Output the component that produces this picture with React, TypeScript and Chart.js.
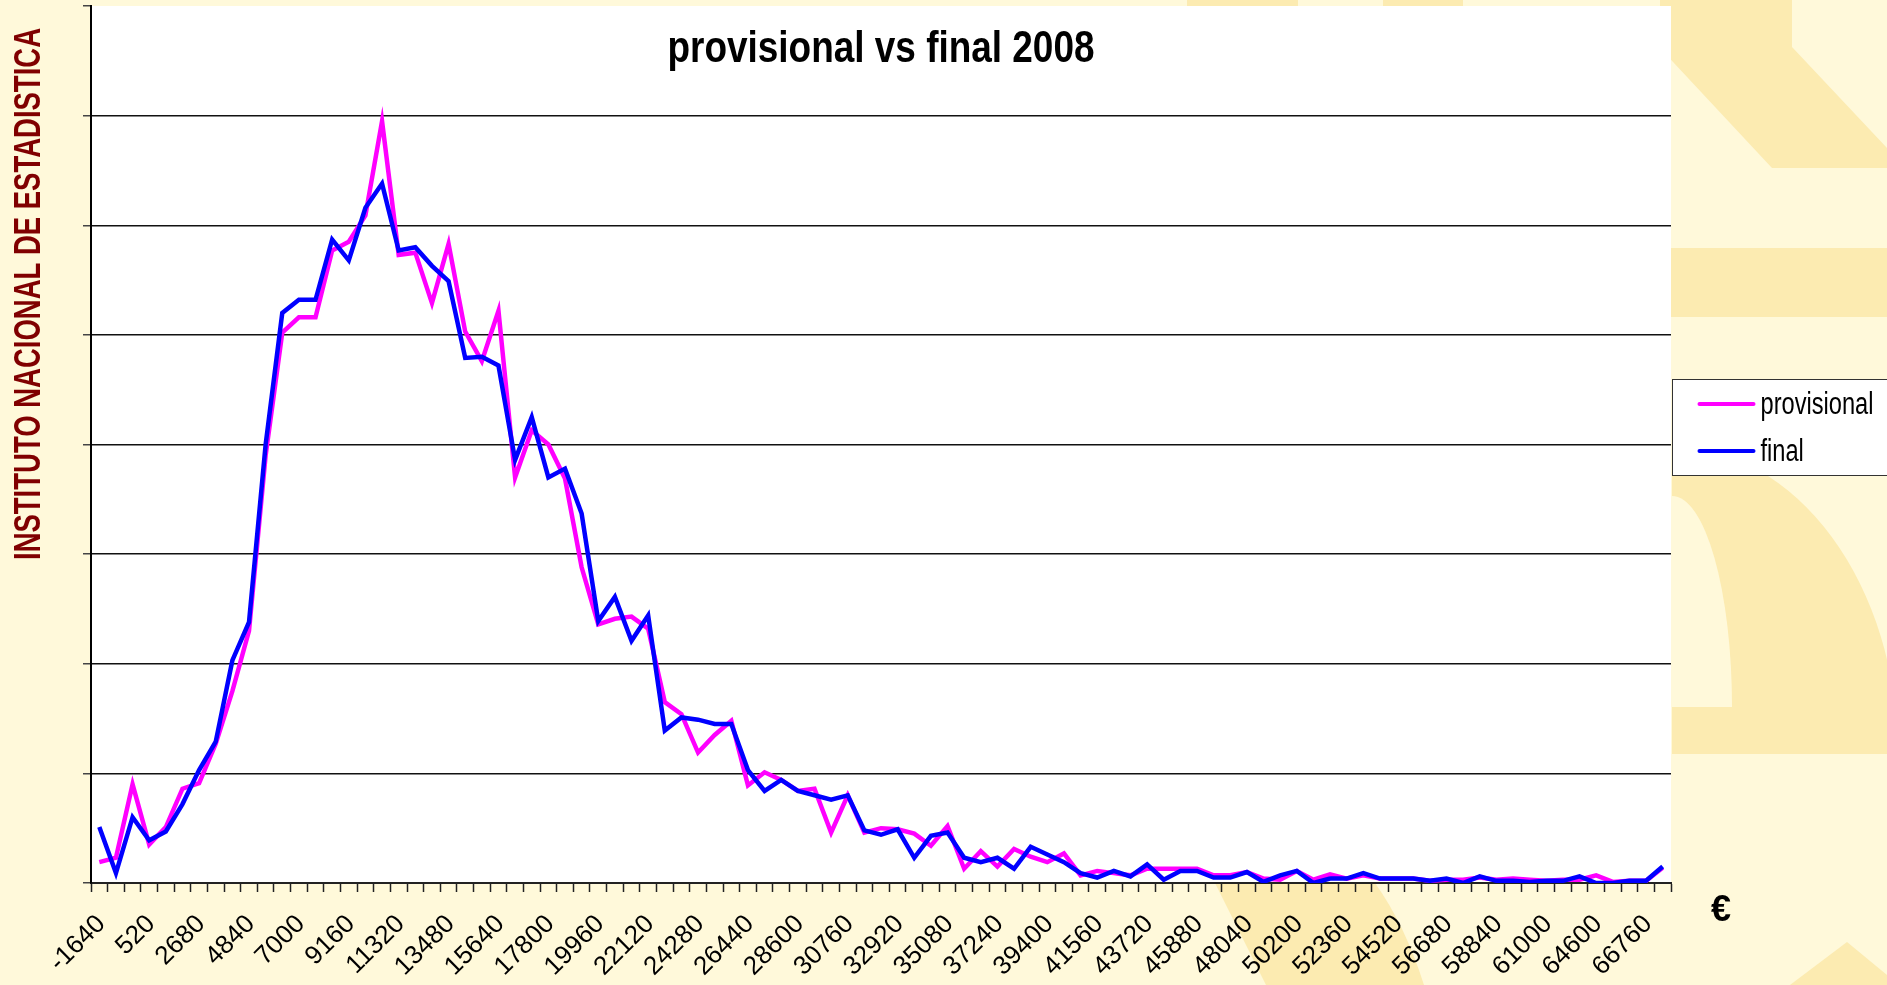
import React, { useEffect, useRef } from "react";
import { Chart, registerables } from "chart.js";

Chart.register(...registerables);

// ---------- data ----------
const categories: number[] = [
  -1640, -920, -200, 520, 1240, 1960, 2680, 3400, 4120, 4840, 5560, 6280, 7000, 7720, 8440, 9160,
  9880, 10600, 11320, 12040, 12760, 13480, 14200, 14920, 15640, 16360, 17080, 17800, 18520, 19240,
  19960, 20680, 21400, 22120, 22840, 23560, 24280, 25000, 25720, 26440, 27160, 27880, 28600, 29320,
  30040, 30760, 31480, 32200, 32920, 33640, 34360, 35080, 35800, 36520, 37240, 37960, 38680, 39400,
  40120, 40840, 41560, 42280, 43000, 43720, 44440, 45160, 45880, 46600, 47320, 48040, 48760, 49480,
  50200, 50920, 51640, 52360, 53080, 53800, 54520, 55240, 55960, 56680, 57400, 58120, 58840, 59560,
  60280, 61000, 62440, 63520, 64600, 65320, 66040, 66760, 67480,
];

// every third category carries a visible tick label
const tickLabelEvery = 3;

const provisional: number[] = [
  0.19, 0.23, 0.9, 0.35, 0.51, 0.86, 0.91, 1.27, 1.75, 2.3,
  3.9, 5.02, 5.16, 5.16, 5.77, 5.85, 6.09, 6.95, 5.73, 5.75,
  5.29, 5.83, 5.03, 4.76, 5.22, 3.7, 4.13, 4.0, 3.69, 2.88,
  2.36, 2.41, 2.43, 2.32, 1.65, 1.54, 1.19, 1.35, 1.48, 0.89,
  1.01, 0.94, 0.84, 0.86, 0.46, 0.8, 0.46, 0.5, 0.49, 0.45,
  0.34, 0.52, 0.13, 0.29, 0.15, 0.31, 0.24, 0.19, 0.27, 0.07,
  0.11, 0.09, 0.07, 0.13, 0.13, 0.13, 0.13, 0.07, 0.07, 0.1,
  0.04, 0.03, 0.11, 0.03, 0.08, 0.04, 0.07, 0.04, 0.04, 0.04,
  0.02, 0.03, 0.03, 0.05, 0.03, 0.04, 0.03, 0.02, 0.03, 0.03,
  0.07, 0.01, 0.02, 0.02, 0.14,
];

const finalValues: number[] = [
  0.51, 0.09, 0.6, 0.39, 0.47, 0.72, 1.03, 1.29, 2.03, 2.38,
  4.0, 5.2, 5.32, 5.32, 5.87, 5.68, 6.16, 6.38, 5.77, 5.8,
  5.63, 5.49, 4.79, 4.8, 4.72, 3.86, 4.25, 3.7, 3.78, 3.37,
  2.39, 2.61, 2.21, 2.44, 1.39, 1.51, 1.49, 1.45, 1.45, 1.03,
  0.84, 0.94, 0.84, 0.8, 0.76, 0.8, 0.48, 0.44, 0.49, 0.23,
  0.43, 0.46, 0.23, 0.19, 0.23, 0.13, 0.33, 0.26, 0.19, 0.09,
  0.05, 0.11, 0.06, 0.17, 0.03, 0.11, 0.11, 0.05, 0.05, 0.1,
  0.01, 0.07, 0.11, 0.0, 0.04, 0.04, 0.09, 0.04, 0.04, 0.04,
  0.02, 0.04, 0.0, 0.06, 0.02, 0.02, 0.01, 0.02, 0.02, 0.06,
  0.0, 0.0, 0.02, 0.02, 0.15,
];

const seriesNames = ["provisional", "final"];
const seriesColors = ["#FF00FF", "#0000FF"];
const yMax = 8;

const chartTitle = "provisional vs final 2008";
const unitLabel = "€";
const sourceLabel = "INSTITUTO NACIONAL DE ESTADISTICA";

// ---------- styles ----------
const CREAM = "#FFF9DA";
const WATERMARK = "#FCEBB1";
const SANS = '"Liberation Sans", Arial, Helvetica, sans-serif';

const W = 1887;
const H = 985;

function drawFitted(
  ctx: CanvasRenderingContext2D,
  text: string,
  x: number,
  y: number,
  font: string,
  targetWidth: number,
  align: "left" | "center"
) {
  ctx.save();
  ctx.font = font;
  const w = ctx.measureText(text).width || 1;
  const sx = targetWidth / w;
  ctx.translate(x, y);
  ctx.scale(sx, 1);
  ctx.textAlign = align;
  ctx.textBaseline = "alphabetic";
  ctx.fillText(text, 0, 0);
  ctx.restore();
}

const decorPlugin = {
  id: "decor",
  beforeDraw(chart: any) {
    const { ctx, chartArea: a } = chart;
    const w = chart.width;
    const h = chart.height;
    ctx.save();
    ctx.fillStyle = CREAM;
    ctx.fillRect(0, 0, w, h);

    ctx.fillStyle = WATERMARK;
    // top strip pieces
    ctx.fillRect(1187, 0, 111, 8);
    ctx.fillRect(1383, 0, 80, 8);
    // upper right diagonal piece
    ctx.beginPath();
    ctx.moveTo(1660, 0);
    ctx.lineTo(1792, 0);
    ctx.lineTo(1792, 47);
    ctx.lineTo(1887, 148);
    ctx.lineTo(1887, 168);
    ctx.lineTo(1772, 168);
    ctx.lineTo(1660, 48);
    ctx.closePath();
    ctx.fill();
    // horizontal band
    ctx.fillRect(1660, 248, 227, 69);
    // quarter ring
    ctx.beginPath();
    ctx.moveTo(1672, 754);
    ctx.ellipse(1672, 754, 226, 307, 0, -Math.PI / 2, 0);
    ctx.closePath();
    ctx.fill();
    ctx.fillStyle = CREAM;
    ctx.beginPath();
    ctx.moveTo(1660, 707);
    ctx.lineTo(1660, 496);
    ctx.ellipse(1672, 707, 60, 211, 0, -Math.PI / 2, 0);
    ctx.closePath();
    ctx.fill();
    ctx.fillStyle = WATERMARK;
    // bottom band under the axis
    ctx.beginPath();
    ctx.moveTo(1215, 883);
    ctx.lineTo(1375, 883);
    ctx.quadraticCurveTo(1405, 925, 1424, 985);
    ctx.lineTo(1266, 985);
    ctx.closePath();
    ctx.fill();
    // bottom right corner
    ctx.beginPath();
    ctx.moveTo(1847, 942);
    ctx.lineTo(1887, 975);
    ctx.lineTo(1887, 985);
    ctx.lineTo(1790, 985);
    ctx.closePath();
    ctx.fill();

    // white plot area
    ctx.fillStyle = "#FFFFFF";
    ctx.fillRect(a.left, a.top, a.right - a.left, a.bottom - a.top);
    ctx.restore();
  },
  afterDraw(chart: any) {
    const { ctx, chartArea: a } = chart;
    ctx.save();
    ctx.fillStyle = "#000";
    // title inside plot area
    drawFitted(ctx, chartTitle, (a.left + a.right) / 2, 62, `bold 44px ${SANS}`, 427, "center");

    // legend box
    const lx = a.right + 1.5;
    const ly = 379.5;
    ctx.fillStyle = "#FFFFFF";
    ctx.fillRect(lx, ly, 300, 96);
    ctx.strokeStyle = "#333";
    ctx.lineWidth = 1;
    ctx.strokeRect(lx, ly, 300, 96);
    ctx.font = `31px ${SANS}`;
    const refW = ctx.measureText(seriesNames[0]).width || 1;
    const sx = 113 / refW;
    seriesNames.forEach((name, i) => {
      const cy = 404 + i * 47;
      ctx.strokeStyle = seriesColors[i];
      ctx.lineWidth = 4;
      ctx.lineCap = "round";
      ctx.beginPath();
      ctx.moveTo(lx + 27, cy);
      ctx.lineTo(lx + 81, cy);
      ctx.stroke();
      ctx.save();
      ctx.fillStyle = "#000";
      ctx.font = `31px ${SANS}`;
      ctx.translate(lx + 88, cy + 10);
      ctx.scale(sx, 1);
      ctx.textAlign = "left";
      ctx.fillText(name, 0, 0);
      ctx.restore();
    });

    // euro unit label
    ctx.fillStyle = "#000";
    ctx.font = `bold 36px ${SANS}`;
    ctx.textAlign = "left";
    ctx.fillText(unitLabel, 1711, 921);

    // vertical source text
    ctx.save();
    ctx.fillStyle = "#800000";
    ctx.translate(40, 560);
    ctx.rotate(-Math.PI / 2);
    drawFitted(ctx, sourceLabel, 0, 0, `bold 37px ${SANS}`, 532, "left");
    ctx.restore();

    ctx.restore();
  },
};

export default function App() {
  const canvasRef = useRef<HTMLCanvasElement | null>(null);

  useEffect(() => {
    const canvas = canvasRef.current;
    if (!canvas) return;
    const chart = new Chart(canvas, {
      type: "line",
      data: {
        labels: categories.map(String),
        datasets: [
          {
            label: seriesNames[0],
            data: provisional,
            borderColor: seriesColors[0],
            backgroundColor: seriesColors[0],
            borderWidth: 4.5,
            pointRadius: 0,
            tension: 0,
            order: 2,
          },
          {
            label: seriesNames[1],
            data: finalValues,
            borderColor: seriesColors[1],
            backgroundColor: seriesColors[1],
            borderWidth: 4.5,
            pointRadius: 0,
            tension: 0,
            order: 1,
          },
        ],
      },
      options: {
        animation: false,
        responsive: true,
        maintainAspectRatio: false,
        layout: { padding: { left: 0, right: 216, top: 6, bottom: 0 } },
        plugins: {
          legend: { display: false },
          title: { display: false },
          tooltip: { enabled: false },
        },
        scales: {
          x: {
            type: "category",
            offset: true,
            grid: {
              offset: true,
              drawOnChartArea: false,
              drawTicks: true,
              tickLength: 9,
              tickColor: "#222",
              tickWidth: 1.5,
            },
            border: { display: true, color: "#222", width: 2 },
            ticks: {
              autoSkip: false,
              minRotation: 45,
              maxRotation: 45,
              padding: 17,
              labelOffset: 2,
              color: "#000",
              font: { family: SANS, size: 26 },
              callback: (_v: any, idx: number) =>
                idx % tickLabelEvery === 0 ? String(categories[idx]) : "",
            },
            afterFit: (s: any) => {
              s.height = 102;
            },
          },
          y: {
            min: 0,
            max: yMax,
            ticks: { stepSize: 1, display: false },
            grid: {
              color: (c: any) =>
                c.tick && (c.tick.value === yMax || c.tick.value === 0) ? "rgba(0,0,0,0)" : "#111",
              lineWidth: 1.5,
              drawTicks: true,
              tickLength: 8,
              tickColor: "#444",
              tickWidth: 1.5,
            },
            border: { display: true, color: "#000", width: 2 },
            afterFit: (s: any) => {
              s.width = 91;
            },
          },
        },
      },
      plugins: [decorPlugin],
    });
    return () => chart.destroy();
  }, []);

  return (
    <div style={{ position: "fixed", left: 0, top: 0, width: W, height: H, background: CREAM }}>
      <canvas ref={canvasRef} />
    </div>
  );
}
